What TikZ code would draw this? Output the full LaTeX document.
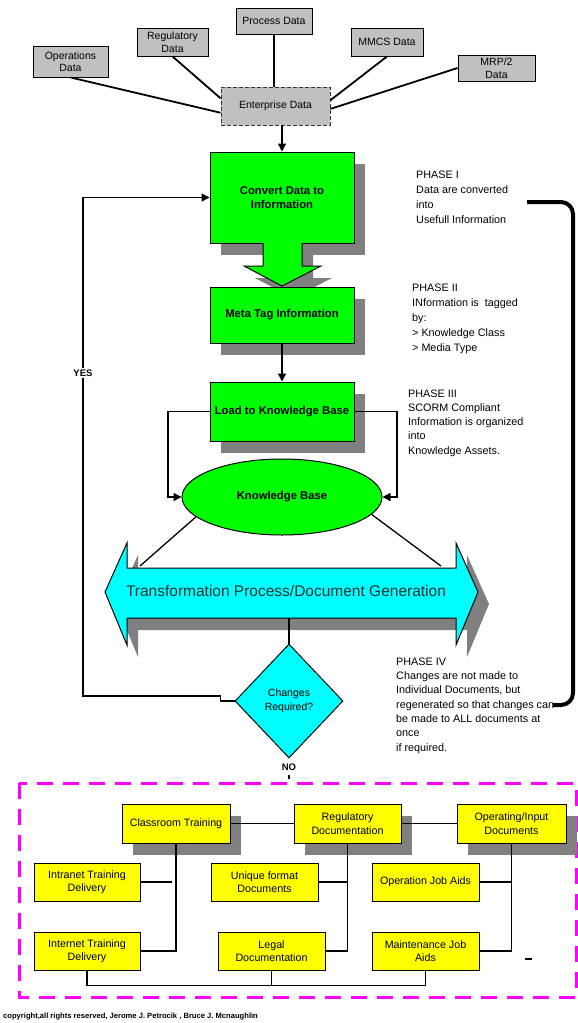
\documentclass[tikz,border=0pt]{standalone}
\usepackage{fontspec}
\setmainfont{Liberation Sans}
\usetikzlibrary{arrows.meta,shapes.geometric,shadows}
\definecolor{lgray}{HTML}{C0C0C0}
\definecolor{shad}{HTML}{808080}
\definecolor{grn}{HTML}{00FF00}
\definecolor{cyn}{HTML}{00FFFF}
\definecolor{yel}{HTML}{FFFF00}
\definecolor{mag}{HTML}{FF00FF}
\definecolor{tptext}{HTML}{1A3333}
\newcommand\myfs[2]{\fontsize{#1}{#2}\selectfont}
\begin{document}
\begin{tikzpicture}[x=1pt,y=-1pt,
  databox/.style={draw=black, line width=0.9pt, fill=lgray, inner sep=0pt, align=center, font=\myfs{10.5}{12.5}},
  greenbox/.style={draw=black, line width=1pt, fill=grn, inner sep=0pt, align=center, font=\bfseries\myfs{11.3}{13.5}},
  yelbox/.style={draw=black, line width=1pt, fill=yel, inner sep=0pt, align=center, font=\myfs{10.7}{13.5}},
  shadowed/.style={drop shadow={shadow xshift=11pt, shadow yshift=-12pt, fill=shad, opacity=1}},
  conn/.style={line width=1.3pt, draw=black},
  thickconn/.style={line width=1.8pt, draw=black},
  arr/.style={conn, -{Triangle[length=8pt,width=8pt]}},
  phase/.style={anchor=north west, inner sep=0pt, align=left, font=\myfs{10.8}{15}},
]
\useasboundingbox (0,0) rectangle (578,1023);
\fill[white] (0,0) rectangle (578,1023);

% ---------- top data sources ----------
\node[databox, minimum width=76pt, minimum height=26pt] (proc) at (274,21) {Process Data};
\node[databox, minimum width=71pt, minimum height=28pt] (reg) at (172.5,42) {Regulatory\\Data};
\node[databox, minimum width=75pt, minimum height=31pt] (ops) at (70.5,61.5) {Operations\\Data};
\node[databox, minimum width=72pt, minimum height=28pt] (mmcs) at (387,42) {MMCS Data};
\node[databox, minimum width=77pt, minimum height=26pt] (mrp) at (496.5,68) {MRP/2\\Data};
\node[databox, draw=black!80, dash pattern=on 4pt off 2pt, minimum width=109pt, minimum height=38pt] (ent) at (275.5,106) {Enterprise Data};

\draw[thickconn] (ops.south) -- (ent.187);
\draw[thickconn] (reg.south) -- (ent.172);
\draw[thickconn] (proc.south) -- (proc.south |- ent.north);
\draw[thickconn] (mmcs.south) -- (ent.6);
\draw[thickconn] (mrp.west) -- (ent.357);

% ---------- green process ----------
\node[greenbox, shadowed, minimum width=144pt, minimum height=91pt] (conv) at (282,197.5) {Convert Data to\\Information};
\draw[arr] (ent.south -| conv.north) -- (conv.north);

% big down arrow
\path[fill=grn, shadowed] (263,242.5) -- (263,266) -- (244,266) -- (282,286) -- (321,266) -- (302,266) -- (302,242.5) -- cycle;
\draw[line width=1pt] (263,243) -- (263,266) -- (244,266) -- (282,286) -- (321,266) -- (302,266) -- (302,243);

\node[greenbox, shadowed, minimum width=144pt, minimum height=56pt] (meta) at (282,315) {Meta Tag Information};
\node[greenbox, shadowed, minimum width=144pt, minimum height=59pt] (load) at (282,411.5) {Load to Knowledge Base};
\node[ellipse, draw=black, line width=1pt, fill=grn, minimum width=200pt, minimum height=76pt, inner sep=0pt, font=\bfseries\myfs{11.3}{13.5}] (kb) at (282,497) {Knowledge Base};

\draw[arr] (meta.south) -- (load.north);
\draw[arr] (load.west) -- (168,411.5) |- (kb.west);
\draw[arr] (load.east) -- (397,411.5) |- (kb.east);

% ---------- transformation double arrow ----------
\path[fill=cyn, draw=black, line width=1pt, shadowed] (105,592) -- (127,543) -- (127,568) -- (456,568) -- (456,543) -- (478,592) -- (456,645) -- (456,618) -- (127,618) -- (127,645) -- cycle;
\node[inner sep=0pt, text=tptext, font=\myfs{15.5}{18}] (tp) at (286,591) {Transformation Process/Document Generation};

\coordinate (kbl) at (140,566);
\coordinate (kbr) at (441,566);
\draw[conn] (kb.193) -- (kbl);
\draw[conn] (kb.349) -- (kbr);

\node[diamond, draw=black, line width=1pt, fill=cyn, minimum width=108pt, minimum height=114pt, inner sep=0pt, align=center, font=\myfs{10.5}{14}] (dia) at (289,701) {Changes\\Required?};
\coordinate (tpb) at (289,618);
\draw[conn] (tpb) -- (dia.north);

\draw[arr] (dia.west) -- ++(-14,0) -- ++(0,-5) -- (83,696) |- (conv.west);
\node[fill=white, inner sep=1.5pt, font=\bfseries\myfs{9.5}{10}] (yes) at (83,373) {YES};
\node[inner sep=0pt, font=\bfseries\myfs{9.5}{10}] (no) at (289,767) {NO};
\coordinate (notop) at (289,775);
\coordinate (nobot) at (289,779);
\draw[line width=1.5pt] (notop) -- (nobot);

% ---------- bracket ----------
\draw[line width=4pt, rounded corners=12pt] (527,202) -- (573,202) -- (573,705) -- (553,705);

% ---------- phase texts ----------
\node[phase] (p1) at (416,171) {PHASE I\\Data are converted\\into\\Usefull Information};
\node[phase] (p2) at (412,284) {PHASE II\\INformation is\ \ tagged\\by:\\> Knowledge Class\\> Media Type};
\node[phase, font=\myfs{10.8}{14.2}] (p3) at (408,389.5) {PHASE III\\SCORM Compliant\\Information is organized\\into\\Knowledge Assets.};
\node[phase, font=\myfs{10.8}{14.3}] (p4) at (396,657.5) {PHASE IV\\Changes are not made to\\Individual Documents, but\\regenerated so that changes can\\be made to ALL documents at\\once\\if required.};

% ---------- output documents ----------
\draw[mag, line width=3pt, dash pattern=on 16pt off 10pt] (19,783) rectangle (576,997);

\node[yelbox, shadowed, minimum width=108pt, minimum height=39pt] (cls) at (176,823.5) {Classroom Training};
\node[yelbox, shadowed, minimum width=107pt, minimum height=39pt] (regd) at (347.5,823.5) {Regulatory\\Documentation};
\node[yelbox, shadowed, minimum width=109pt, minimum height=39pt] (opi) at (511.5,823.5) {Operating/Input\\Documents};
\node[yelbox, minimum width=106pt, minimum height=38pt] (intr) at (87,882) {Intranet Training\\Delivery};
\node[yelbox, minimum width=106pt, minimum height=38pt] (inte) at (87,951) {Internet Training\\Delivery};
\node[yelbox, minimum width=107pt, minimum height=38pt] (uniq) at (264.5,882) {Unique format\\Documents};
\node[yelbox, minimum width=107pt, minimum height=38pt] (legal) at (271.5,951) {Legal\\Documentation};
\node[yelbox, minimum width=107pt, minimum height=38pt] (opja) at (425.5,882) {Operation Job Aids};
\node[yelbox, minimum width=107pt, minimum height=38pt] (mja) at (425.5,951) {Maintenance Job\\Aids};

\draw[conn] (cls.east) -- (regd.west);
\draw[conn] (regd.east) -- (opi.west);
\draw[conn] (cls.south) |- (inte.east);
\coordinate (intrend) at (172,882);
\draw[conn] (intr.east) -- (intrend);
\draw[conn] (regd.south) |- (legal.east);
\draw[conn] (uniq.east) -- (uniq.east -| regd.south);
\draw[conn] (opi.south) |- (mja.east);
\draw[conn] (opja.east) -- (opja.east -| opi.south);
\draw[conn] (inte.south) -- ++(0,15) -| (mja.south);
\draw[conn] (legal.south) -- ++(0,15);
\coordinate (dasha) at (525,959);
\coordinate (dashb) at (532,959);
\draw[line width=1.3pt] (dasha) -- (dashb);

\node[anchor=west, inner sep=0pt, font=\bfseries\myfs{7.6}{8}] (copy) at (3,1017) {copyright,all rights reserved, Jerome J. Petrocik , Bruce J. Mcnaughlin};
\end{tikzpicture}
\end{document}
